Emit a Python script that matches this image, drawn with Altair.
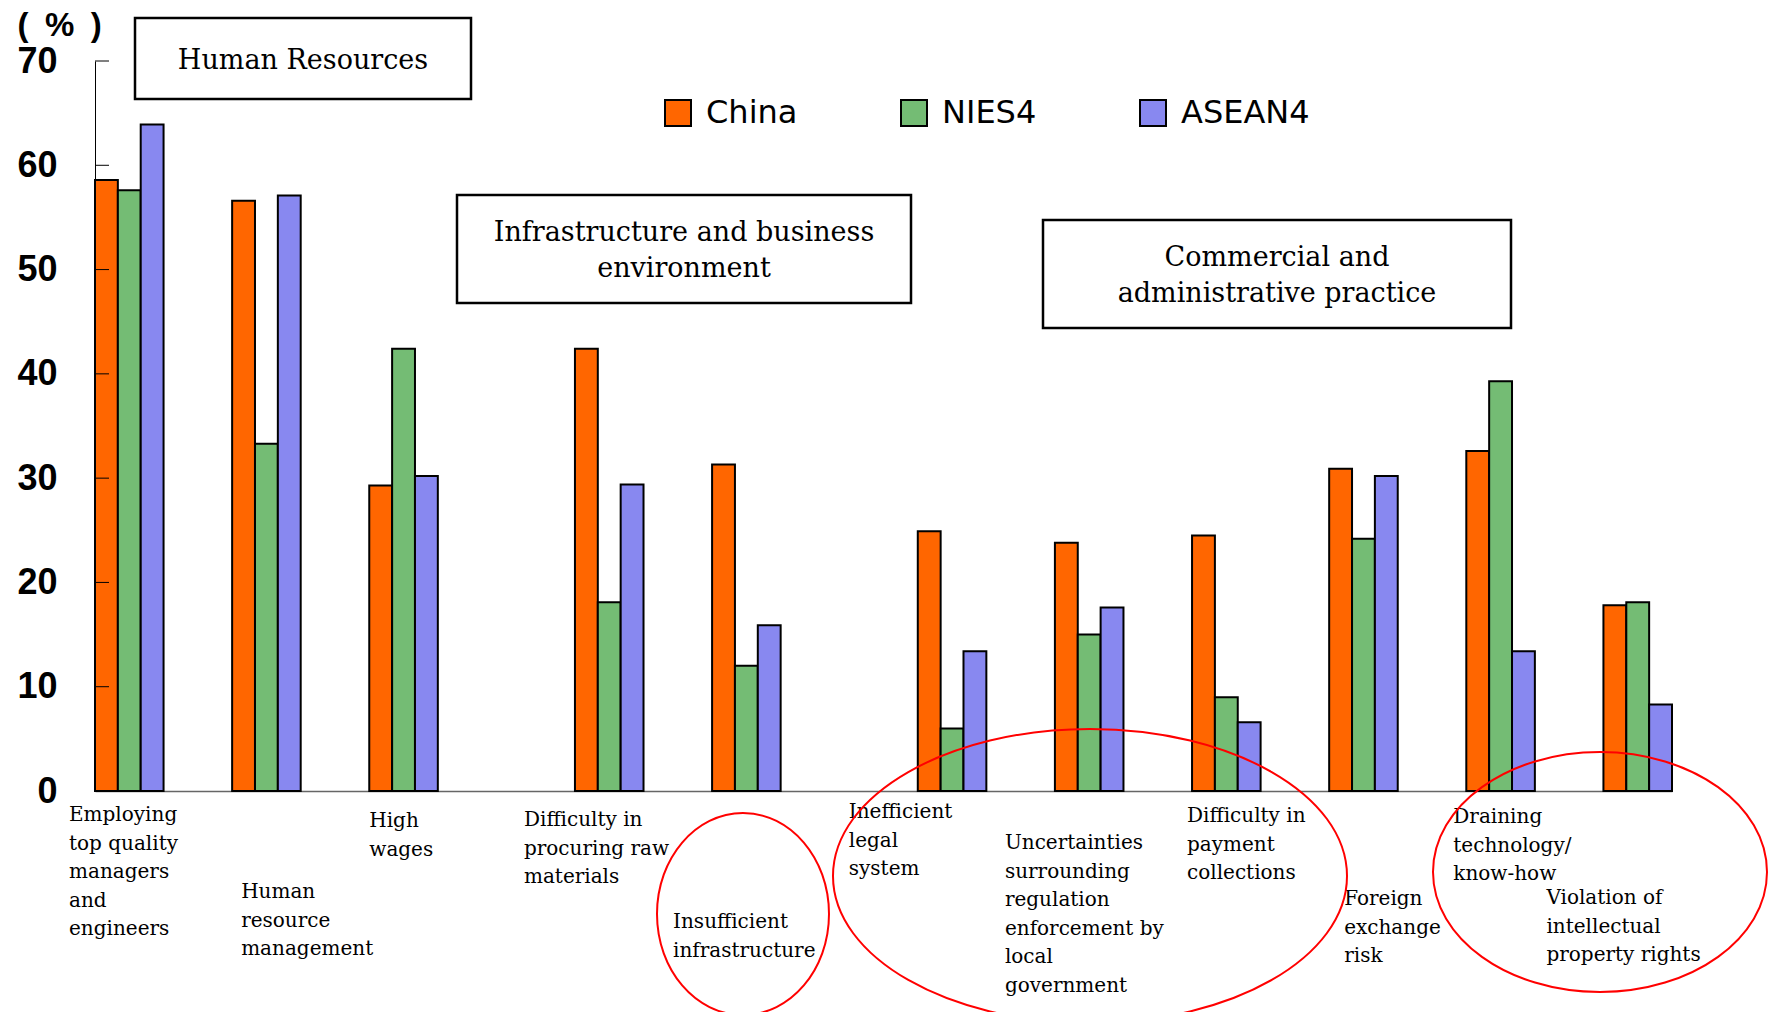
import altair as alt
import pandas as pd

# ---------------------------------------------------------------- data
categories = [
    "Employing\ntop quality\n\u00a0managers\n\u00a0and\nengineers",
    "Human\nresource\nmanagement",
    "High\nwages",
    "Difficulty in\nprocuring raw\nmaterials",
    "Insufficient\ninfrastructure",
    "Inefficient\nlegal\nsystem",
    "Uncertainties\nsurrounding\nregulation\nenforcement by\nlocal\ngovernment",
    "Difficulty in\npayment\ncollections",
    "Foreign\nexchange\nrisk",
    "Draining\ntechnology/\nknow-how",
    "Violation of\nintellectual\nproperty rights",
]
# issue group of each category (index into group_names)
category_group = [0, 0, 0, 1, 1, 2, 2, 2, 2, 2, 2]
group_names = [
    "Human Resources",
    "Infrastructure and business\nenvironment",
    "Commercial and\nadministrative practice",
]
series = ["China", "NIES4", "ASEAN4"]
china = [58.6, 56.6, 29.3, 42.4, 31.3, 24.9, 23.8, 24.5, 30.9, 32.6, 17.8]
nies4 = [57.6, 33.3, 42.4, 18.1, 12.0, 6.0, 15.0, 9.0, 24.2, 39.3, 18.1]
asean4 = [63.9, 57.1, 30.2, 29.4, 15.9, 13.4, 17.6, 6.6, 30.2, 13.4, 8.3]
y_ticks = [0, 10, 20, 30, 40, 50, 60, 70]

# -------------------------------------------------------------- layout
W, H = 1577, 730
LEFT, TOP = 95, 61
PAD = {"left": LEFT, "top": TOP, "right": 1769 - LEFT - W, "bottom": 1012 - TOP - H}
X_MAX, Y_MAX = 11.5, 70
GROUP_GAP = 0.5          # extra space between issue groups, in category steps
BAR_W = 1 / 6            # each bar is a sixth of a category step
STEP_PX = W / X_MAX

series_colors = ["#ff6600", "#74bc74", "#8888f0"]
SERIF = "DejaVu Serif"
BOX_FONT, BOX_LINE = 27, 36

# category label placement: horizontal shift from the group start and
# drop below the baseline, in pixels
label_dx_px = [-26, 9, 0, -51, -39, -69, -50, -5, 15, -13, -57]
label_drop_px = [14, 91, 20, 19, 121, 11, 42, 15, 98, 16, 97]

# group title boxes in page pixels: left, right, top, bottom
box_px = [(135, 471, 18, 99), (457, 911, 195, 303), (1043, 1511, 220, 328)]

# highlight ellipses in page pixels: centre x, centre y, radius x, radius y
ellipse_px = [(743, 914, 86, 101), (1090, 876, 257, 147), (1600, 872, 167, 120)]


def px_x(px):
    return (px - LEFT) / W * X_MAX


def px_y(py):
    return (TOP + H - py) / H * Y_MAX


slots = [i + GROUP_GAP * g for i, g in enumerate(category_group)]

rows = []
for i, cat in enumerate(categories):
    for k, (name, vals) in enumerate(zip(series, [china, nies4, asean4])):
        rows.append({
            "category": cat,
            "series": name,
            "value": vals[i],
            "x0": slots[i] + k * BAR_W,
            "x1": slots[i] + (k + 1) * BAR_W,
        })
bars_df = pd.DataFrame(rows)

x_scale = alt.Scale(domain=[0, X_MAX], nice=False, zero=False)
y_scale = alt.Scale(domain=[0, Y_MAX], nice=False)

bars = alt.Chart(bars_df).mark_rect(stroke="black", strokeWidth=2).encode(
    x=alt.X("x0:Q", scale=x_scale,
            axis=alt.Axis(labels=False, ticks=False, grid=False, title=None,
                          domainColor="#666666", domainWidth=1.5)),
    x2="x1:Q",
    y=alt.Y("value:Q", scale=y_scale,
            axis=alt.Axis(values=y_ticks, grid=False, ticks=False, tickSize=0,
                          labelFont="Liberation Sans", labelFontSize=36,
                          labelFontWeight="bold", labelColor="black",
                          labelPadding=38, domainColor="black", domainWidth=1,
                          title="(\u2002%\u2002)", titleAngle=0, titleAlign="left",
                          titleBaseline="middle", titleX=-78, titleY=-36,
                          titleFont="Liberation Sans", titleFontSize=33,
                          titleFontWeight="bold", titleColor="black")),
    y2=alt.datum(0),
    color=alt.Color("series:N",
                    scale=alt.Scale(domain=series, range=series_colors),
                    legend=alt.Legend(title=None, orient="none", legendX=567,
                                      legendY=36, direction="horizontal",
                                      symbolType="square", symbolSize=676,
                                      symbolStrokeColor="black",
                                      symbolStrokeWidth=2, symbolOpacity=1,
                                      labelFont="DejaVu Sans", labelFontSize=32,
                                      labelColor="black", labelOffset=12,
                                      columnPadding=99, padding=0)),
)

ticks = alt.Chart(pd.DataFrame({"t": y_ticks})).mark_rule(
    color="black", strokeWidth=1
).encode(
    y=alt.Y("t:Q", scale=y_scale, axis=None),
    x=alt.value(0),
    x2=alt.value(14),
)

n_lines = [name.count("\n") + 1 for name in group_names]
box_df = pd.DataFrame({
    "name": group_names,
    "bx0": [px_x(b[0]) for b in box_px],
    "bx1": [px_x(b[1]) for b in box_px],
    "by0": [px_y(b[2]) for b in box_px],
    "by1": [px_y(b[3]) for b in box_px],
    "tx": [px_x((b[0] + b[1]) / 2) for b in box_px],
    # first line sits half the block height above the box centre
    "ty": [px_y((b[2] + b[3]) / 2 + 2 - (n - 1) * BOX_LINE / 2)
           for b, n in zip(box_px, n_lines)],
})

boxes = alt.Chart(box_df).mark_rect(fill="white", stroke="black", strokeWidth=2.5).encode(
    x=alt.X("bx0:Q", scale=x_scale, axis=None),
    x2="bx1:Q",
    y=alt.Y("by0:Q", scale=y_scale, axis=None),
    y2="by1:Q",
)

box_text = alt.Chart(box_df).mark_text(
    align="center", baseline="middle", font=SERIF, fontSize=BOX_FONT,
    lineBreak="\n", lineHeight=BOX_LINE, color="black"
).encode(
    x=alt.X("tx:Q", scale=x_scale, axis=None),
    y=alt.Y("ty:Q", scale=y_scale, axis=None),
    text="name:N",
)

lab_df = pd.DataFrame({
    "label": categories,
    "lx": [s + dx / STEP_PX for s, dx in zip(slots, label_dx_px)],
    "ly": [-d / H * Y_MAX for d in label_drop_px],
})

labels = alt.Chart(lab_df).mark_text(
    align="left", baseline="top", font=SERIF, fontSize=20,
    lineBreak="\n", lineHeight=28.5, color="black"
).encode(
    x=alt.X("lx:Q", scale=x_scale, axis=None),
    y=alt.Y("ly:Q", scale=y_scale, axis=None),
    text="label:N",
)


def ellipse_path(ratio):
    # closed ellipse inside the unit box, vertical radius = ratio
    k = 0.5523
    b = ratio
    return (f"M 1 0 C 1 {k*b:.4f} {k} {b:.4f} 0 {b:.4f} "
            f"C {-k} {b:.4f} -1 {k*b:.4f} -1 0 "
            f"C -1 {-k*b:.4f} {-k} {-b:.4f} 0 {-b:.4f} "
            f"C {k} {-b:.4f} 1 {-k*b:.4f} 1 0 Z")


ellipses = []
for cx, cy, rx, ry in ellipse_px:
    e = alt.Chart(pd.DataFrame({"ex": [px_x(cx)], "ey": [px_y(cy)]})).mark_point(
        shape=ellipse_path(ry / rx), size=(2 * rx) ** 2, filled=False,
        stroke="red", strokeWidth=2, opacity=1
    ).encode(
        x=alt.X("ex:Q", scale=x_scale, axis=None),
        y=alt.Y("ey:Q", scale=y_scale, axis=None),
    )
    ellipses.append(e)

chart = alt.layer(bars, ticks, boxes, box_text, labels, *ellipses).resolve_axis(
    x="independent", y="independent"
).properties(
    width=W, height=H, padding=PAD,
    autosize=alt.AutoSizeParams(type="none"),
    background="white",
).configure_view(stroke=None)

chart.save("out.html", embed_options={"renderer": "svg", "actions": False})
